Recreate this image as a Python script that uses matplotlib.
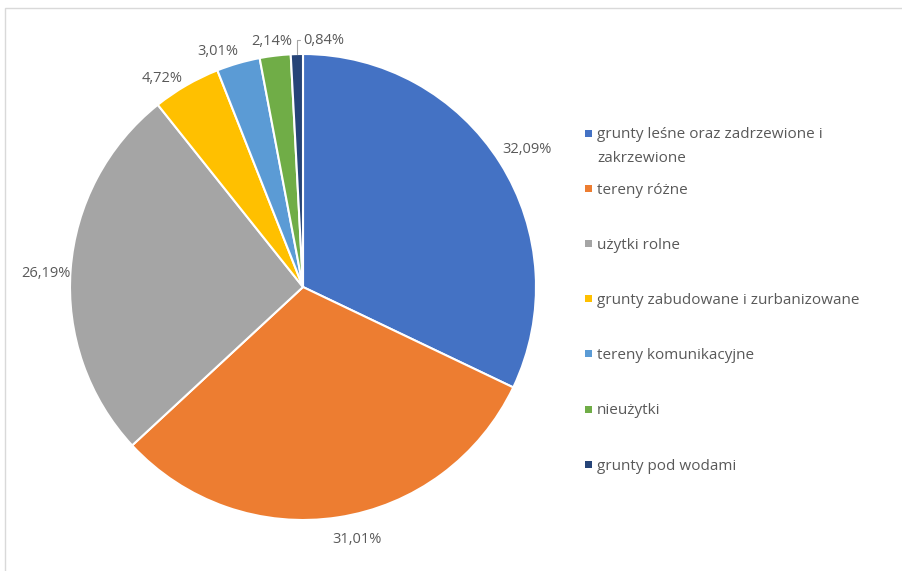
import numpy as np
import matplotlib
matplotlib.use('Agg')
import matplotlib.pyplot as plt
from matplotlib.patches import Rectangle

# ── Data ──────────────────────────────────────────────────────────────────────
categories = [
    'grunty leśne oraz zadrzewione i\nzakrzewione',
    'tereny różne',
    'użytki rolne',
    'grunty zabudowane i zurbanizowane',
    'tereny komunikacyjne',
    'nieużytki',
    'grunty pod wodami',
]
shares = [32.09, 31.01, 26.19, 4.72, 3.01, 2.14, 0.84]
colors = ['#4472C4', '#ED7D31', '#A5A5A5', '#FFC000', '#5B9BD5', '#70AD47', '#264478']
pct_labels = [f'{v:.2f}%'.replace('.', ',') for v in shares]

# ── Layout (pixel units, y measured upward) ───────────────────────────────────
W, H   = 902, 571
CX, CY = 303, H - 287
R      = 233
TEXT   = '#595959'
FONT   = 'Open Sans'
# Excel-style outside-end label placement: radius factor, angle nudge (deg)
LABEL_R     = [1.129, 1.106, 1.104, 1.079, 1.076, 1.061]
LABEL_NUDGE = [-0.6, 3.4, 1.3, 4.0, 3.7, 0.5]

fig = plt.figure(figsize=(W / 100, H / 100), dpi=100)
fig.patches.append(Rectangle((5 / W, -0.1), 1.2, 1.1 - 8 / H, transform=fig.transFigure,
                             facecolor='none', edgecolor='#D9D9D9', linewidth=1))

ax = fig.add_axes([0, 0, 1, 1])
wedges, _ = ax.pie(shares, colors=colors, startangle=90, counterclock=False,
                   center=(CX, CY), radius=R, frame=True,
                   wedgeprops=dict(edgecolor='white', linewidth=1.5))
ax.set_xlim(0, W)
ax.set_ylim(0, H)
ax.set_aspect('equal')
ax.axis('off')

# ── Percentage labels ─────────────────────────────────────────────────────────
for w, lab, rf, nudge in zip(wedges, pct_labels, LABEL_R, LABEL_NUDGE):
    ang = np.deg2rad((w.theta1 + w.theta2) / 2 + nudge)
    ax.text(CX + rf * R * np.cos(ang), CY + rf * R * np.sin(ang), lab,
            ha='center', va='center', fontsize=10.5, color=TEXT, family=FONT)

# smallest slice gets a leader line like in the reference
w = wedges[-1]
mid = np.deg2rad((w.theta1 + w.theta2) / 2)
x0, y0 = CX + R * np.cos(mid), CY + R * np.sin(mid)
ax.annotate(pct_labels[-1], xy=(x0, y0), xytext=(x0 + 6, y0 + 14),
            fontsize=10.5, color=TEXT, family=FONT, ha='left', va='center',
            arrowprops=dict(arrowstyle='-', color='#A6A6A6', lw=0.8,
                            connectionstyle='angle,angleA=0,angleB=90,rad=0',
                            shrinkA=0, shrinkB=0))

# ── Legend (drawn by hand: Excel spaces the rows evenly) ──────────────────────
LEG_X, LEG_TOP, LEG_STEP, LINE_STEP, SQ = 585, H - 133, 55.2, 23, 7
for i, (lab, col) in enumerate(zip(categories, colors)):
    y = LEG_TOP - i * LEG_STEP
    ax.add_patch(Rectangle((LEG_X, y - SQ / 2), SQ, SQ, facecolor=col, edgecolor='none'))
    for j, line in enumerate(lab.split('\n')):
        ax.text(LEG_X + SQ + 5, y - j * LINE_STEP, line, ha='left', va='center_baseline',
                fontsize=11, color=TEXT, family=FONT)

plt.savefig('out.png', dpi=100)
plt.close()
